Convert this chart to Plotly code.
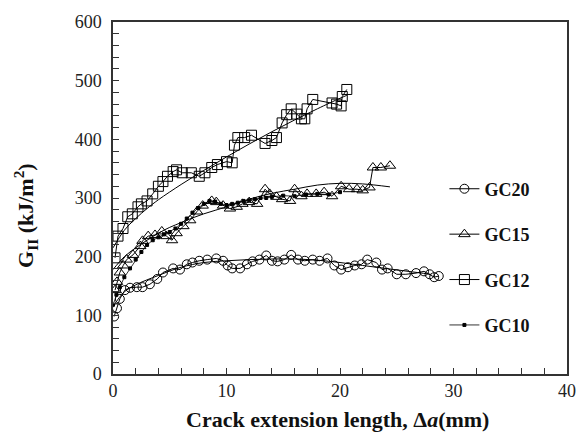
import plotly.graph_objects as go

# ---------------- data ----------------
gc20_x = [0.1,0.35,0.6,1.05,1.5,2.1,2.6,3.25,3.9,4.4,5.3,5.9,6.5,7.0,7.6,8.3,9.1,9.7,10.1,10.5,
          11.2,11.8,12.3,12.9,13.5,14.0,14.5,15.1,15.7,16.3,16.9,17.6,18.2,18.9,19.5,20.1,20.7,
          21.3,21.9,22.4,23.2,23.7,24.2,25.0,25.8,26.7,27.4,27.9,28.3,28.7]
gc20_y = [98,112,128,143,147,148,148,153,162,173,180,178,187,190,193,195,197,193,185,180,
          180,187,192,195,202,193,192,195,203,195,193,195,193,197,185,178,182,
          185,187,195,190,178,180,170,170,172,175,170,165,167]

gc15_x = [0.18,0.35,0.6,0.9,1.2,1.76,2.4,2.6,3.1,3.7,4.3,4.7,5.2,5.6,6.2,6.8,7.4,7.9,8.7,9.1,
          9.7,10.3,10.9,11.4,12.0,12.7,13.4,13.8,14.4,14.9,15.6,16.0,16.6,17.1,17.9,18.6,19.3,
          20.1,20.8,21.5,22.0,22.6,22.9,23.6,24.4]
gc15_y = [143,157,173,185,195,203,218,227,235,237,243,235,228,240,252,262,277,287,295,293,
          287,282,285,290,293,290,315,307,302,298,295,315,303,307,307,310,303,
          320,315,315,313,318,352,352,355]

gc12_x = [0.18,0.44,0.88,1.3,1.7,2.2,2.5,3.0,3.5,4.0,4.4,4.8,5.3,5.6,6.1,6.9,7.6,8.1,8.7,9.2,
          10.0,10.5,10.7,11.0,11.6,12.2,13.4,14.0,14.4,14.9,15.3,15.7,16.2,16.6,16.9,17.1,17.6,
          19.3,19.7,20.1,20.2,20.6]
gc12_y = [198,235,248,268,273,285,290,295,307,320,328,337,345,348,343,343,337,343,352,357,
          362,360,390,403,403,407,393,398,403,428,442,452,443,435,435,452,468,
          462,460,457,473,485]

gc10_x = [0,0.3,0.6,1.0,1.5,2.0,2.5,3.0,3.5,4.0,4.5,5.0,5.5,6.0,6.5,7.0,7.5,8.0,8.5,9.0,9.5,
          10.0,10.5,11.0,11.5,12.0,12.5,13.0,13.5,14.0,15.0,16.0,17.0,18.0,19.0,20.0]
gc10_y = [118,135,148,165,180,195,208,220,228,233,238,242,248,256,265,275,283,290,295,294,290,
          288,290,292,295,296,298,300,300,302,304,303,306,307,306,310]

# fitted trend curves
fit20_x = [0,1,2,4,6,8,10,12,14,16,18,20,22,24,26,28]
fit20_y = [115,140,152,168,182,190,193,195,196,196,194,190,185,180,175,170]
fit15_x = [0,1,2,3,4,5,6,7,8,9,10,12,14,16,18,20,22,24.4]
fit15_y = [178,200,215,228,240,250,258,266,273,279,285,298,308,315,322,325,324,319]
fit12_x = [0,1,2,3,4,6,8,10,12,14,16,18,20,20.6]
fit12_y = [215,245,265,282,297,323,347,370,392,413,433,452,470,475]

series_names = ["GC20", "GC15", "GC12", "GC10"]
x_ticks = [0, 10, 20, 30, 40]
y_ticks = [0, 100, 200, 300, 400, 500, 600]

FONT = "'Liberation Serif', 'Times New Roman', Times, serif"
fig = go.Figure()

# fit lines
for fx, fy in [(fit20_x, fit20_y), (fit15_x, fit15_y), (fit12_x, fit12_y)]:
    fig.add_trace(go.Scatter(x=fx, y=fy, mode="lines", line=dict(color="black", width=1, shape="spline"),
                             showlegend=False, hoverinfo="skip"))

data = [
    (gc20_x, gc20_y, "circle-open", 9, 1),
    (gc15_x, gc15_y, "triangle-up-open", 10, 1),
    (gc12_x, gc12_y, "square-open", 10, 1),
    (gc10_x, gc10_y, "square", 3, 0.8),
]
for name, (xs, ys, sym, sz, lw) in zip(series_names, data):
    fig.add_trace(go.Scatter(
        x=xs, y=ys, mode="lines+markers", name=name, legendgroup=name,
        line=dict(color="black", width=lw),
        marker=dict(symbol=sym, size=sz, color="black", line=dict(color="black", width=1)),
    ))

TICKFONT = dict(family=FONT, size=18, color="#222")
axis_common = dict(
    showline=True, linecolor="#333", linewidth=1.5, mirror=True,
    ticks="inside", ticklen=6, tickcolor="#333", tickwidth=1,
    showgrid=False, zeroline=False,
)
fig.update_xaxes(range=[0, 40], tickvals=x_ticks, tickfont=TICKFONT,
                 minor=dict(dtick=2, ticks="inside", ticklen=6, tickcolor="#333"),
                 **axis_common)
fig.update_yaxes(range=[0, 600], tickvals=y_ticks, ticklabelstandoff=6, tickfont=TICKFONT,
                 minor=dict(dtick=20, ticks="inside", ticklen=6, tickcolor="#333"),
                 **axis_common)

fig.update_layout(
    width=588, height=446,
    margin=dict(l=113, r=19, t=14, b=72),
    paper_bgcolor="white", plot_bgcolor="white",
    font=dict(family=FONT),
    legend=dict(x=0.73, y=0.578, xanchor="left", yanchor="top",
                font=dict(family=FONT, size=18, color="#111", weight="bold"),
                tracegroupgap=19, bgcolor="rgba(0,0,0,0)"),
    annotations=[
        dict(text="<b>Crack extension length, Δ<i>a</i>(mm)</b>", xref="paper", yref="paper",
             x=0.495, y=-0.128, xanchor="center", yanchor="middle", showarrow=False,
             font=dict(family=FONT, size=22, color="#111")),
        dict(text="<b>G<sub>II</sub> (kJ/m<sup>2</sup>)</b>", xref="paper", yref="paper",
             x=-0.193, y=0.45, xanchor="center", yanchor="middle", showarrow=False, textangle=-90,
             font=dict(family=FONT, size=22, color="#111")),
    ],
)

fig.write_html("out.html")
